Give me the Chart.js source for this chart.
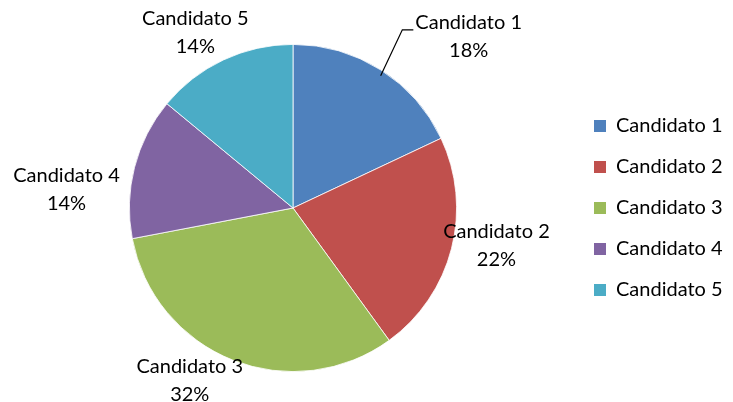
<!DOCTYPE html>
<html>
<head>
<meta charset="utf-8">
<script src="https://cdn.jsdelivr.net/npm/chart.js@4/dist/chart.umd.min.js"></script>
<style>
  html, body { margin: 0; padding: 0; background: #fff; }
  #wrap { width: 733px; height: 402px; }
</style>
</head>
<body>
<div id="wrap"><canvas id="votosChart"></canvas></div>
<script>
// Data for the chart
const candidatos = ["Candidato 1", "Candidato 2", "Candidato 3", "Candidato 4", "Candidato 5"];
const votos = [18, 22, 32, 14, 14]; // percent of votes
const cores = ["#4F81BD", "#C0504D", "#9BBB59", "#8064A2", "#4BACC6"];

const fonte = "Lato, 'Open Sans', sans-serif";

// label placement relative to the middle of each slice's outer edge
const labelOffsets = [[88, -33], [45, -3], [-43, 20], [-68, 22], [-28, -27]];
const leaderLine = [true, false, false, false, false];

// Simple outside labels: name on one line, percent below
const pieLabels = {
  id: 'pieLabels',
  afterDatasetsDraw(chart) {
    const ctx = chart.ctx;
    const meta = chart.getDatasetMeta(0);
    const total = votos.reduce((a, b) => a + b, 0);
    ctx.save();
    ctx.font = "20px " + fonte;
    ctx.fillStyle = "#000";
    ctx.textAlign = "center";
    ctx.textBaseline = "middle";
    meta.data.forEach((arc, i) => {
      const p = arc.getProps(['x', 'y', 'startAngle', 'endAngle', 'outerRadius'], true);
      const mid = (p.startAngle + p.endAngle) / 2;
      const ex = p.x + Math.cos(mid) * p.outerRadius;
      const ey = p.y + Math.sin(mid) * p.outerRadius;
      const cx = ex + labelOffsets[i][0];
      const cy = ey + labelOffsets[i][1];
      const nome = candidatos[i];
      const pct = Math.round(votos[i] / total * 100) + "%";
      if (leaderLine[i]) {
        const w = ctx.measureText(nome).width;
        const left = cx - w / 2;
        ctx.beginPath();
        ctx.strokeStyle = "#000";
        ctx.lineWidth = 1.2;
        ctx.moveTo(ex, ey + 6);
        ctx.lineTo(left - 13, cy - 7);
        ctx.lineTo(left - 2, cy - 7);
        ctx.stroke();
      }
      ctx.fillText(nome, cx, cy - 14);
      ctx.fillText(pct, cx, cy + 14);
    });
    ctx.restore();
  }
};

const config = {
  type: 'pie',
  data: {
    labels: candidatos,
    datasets: [{
      data: votos,
      backgroundColor: cores,
      borderColor: "#ffffff",
      borderWidth: 0.8
    }]
  },
  options: {
    responsive: true,
    maintainAspectRatio: false,
    animation: false,
    layout: { padding: { top: 44, bottom: 30, left: 13, right: 3 } },
    plugins: {
      tooltip: { enabled: false },
      legend: {
        position: 'right',
        maxWidth: 157,
        labels: {
          boxWidth: 12,
          boxHeight: 12,
          padding: 21,
          color: "#000",
          font: { family: fonte, size: 20 },
          generateLabels(chart) {
            const items = Chart.overrides.pie.plugins.legend.labels.generateLabels(chart);
            items.forEach(it => { it.strokeStyle = it.fillStyle; it.lineWidth = 0; });
            return items;
          }
        }
      }
    }
  },
  plugins: [pieLabels]
};

window.addEventListener('DOMContentLoaded', () => {
  const votosChart = new Chart(document.getElementById("votosChart"), config);
});
</script>
</body>
</html>
